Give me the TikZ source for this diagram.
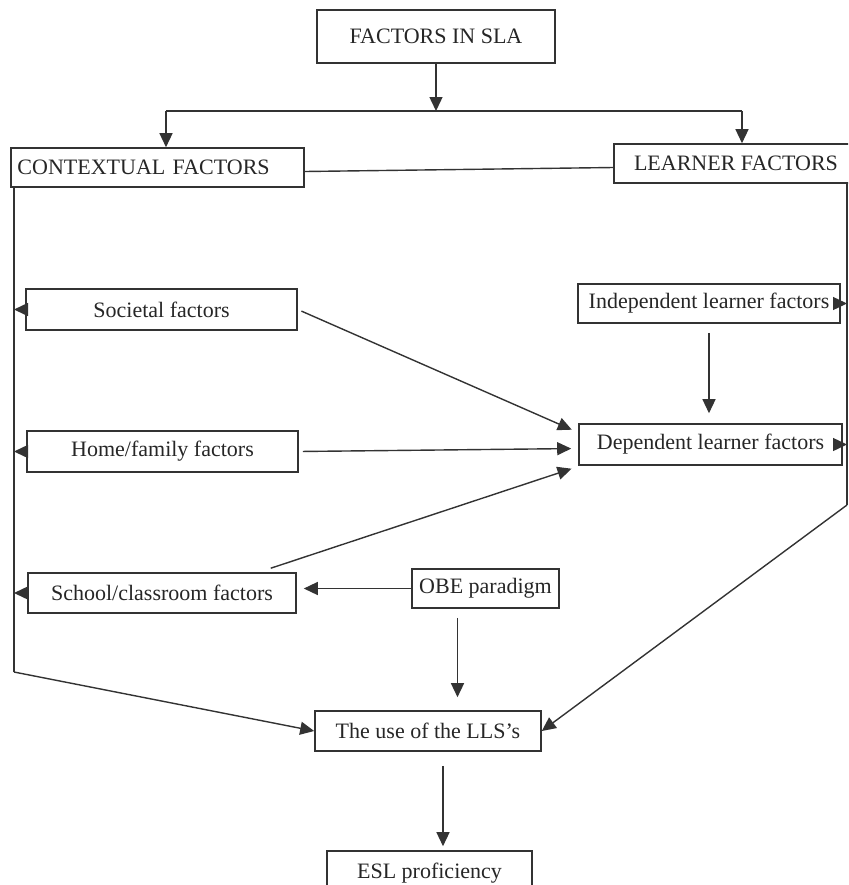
\documentclass[tikz,border=0pt]{standalone}
\usepackage{fontspec}
\setmainfont{Liberation Serif}
\usetikzlibrary{arrows.meta}

\begin{document}
\begin{tikzpicture}[x=0.5pt, y=-0.5pt, >={Triangle[length=7pt, width=6.5pt]}, line width=0.7pt, color=black!80]
	\clip (0, 0) rectangle (848, 885);
		\begin{scope}
		\tikzstyle{every node}=[draw, line width=0.8pt, align=center, inner sep=0pt, font=\fontsize{11}{13}\selectfont, text=black!85]
				\node[minimum width=119pt, minimum height=26.5pt] (SLA) at (436, 36.5) {FACTORS IN SLA};
				\node[minimum width=146.5pt, minimum height=19.5pt, text width=140pt, align=left] (CF) at (157.5, 167.5) {CONTEXTUAL FACTORS};
				\node[minimum width=122pt, minimum height=19.5pt] (LF) at (736, 163.5) {LEARNER FACTORS};
				\node[minimum width=135.5pt, minimum height=20.5pt] (SF) at (161.5, 309.5) {Societal factors};
				\node[minimum width=135.5pt, minimum height=20.5pt] (HF) at (162.5, 451.5) {Home/family factors};
				\node[minimum width=134pt, minimum height=20pt] (SCF) at (162, 593) {School/classroom factors};
				\node[minimum width=131pt, minimum height=19.5pt] (ILF) at (709, 303.5) {Independent learner factors};
				\node[minimum width=131.5pt, minimum height=20.5pt] (DLF) at (710.5, 444.5) {Dependent learner factors};
				\node[minimum width=73.5pt, minimum height=19.5pt] (OBE) at (485.5, 588.5) {OBE paradigm};
				\node[minimum width=113pt, minimum height=20pt] (LLS) at (428, 731) {The use of the LLS’s};
				\node[minimum width=102.5pt, minimum height=22pt] (ESL) at (429.5, 873) {ESL proficiency};

				% branch points
				\coordinate (HUB) at (436, 111);
				\coordinate (HL) at (166, 111);
				\coordinate (HR) at (742, 111);
				\coordinate (LB) at (14, 672);
				\coordinate (RB) at (847, 505);

				\draw[->]  (SLA) -- (HUB);
				\draw  (HL) -- (HR);
				\draw[->]  (HL) -- (HL |- CF.north);
				\draw[->]  (HR) -- (HR |- LF.north);
				\draw  ([yshift=-2pt]CF.east) -- ([yshift=-2pt]LF.west);

				% left side
				\draw  (CF.south -| LB) -- (LB);
				\draw[->]  (SF) -- (SF -| LB);
				\draw[->]  (HF) -- (HF -| LB);
				\draw[->]  (SCF) -- (SCF -| LB);
				\draw[->]  (LB) -- (LLS.west);

				% right side
				\draw  (LF.south -| RB) -- (RB);
				\draw[->]  (ILF) -- (ILF -| RB);
				\draw[->]  (DLF) -- (DLF -| RB);
				\draw[->]  (RB) -- (LLS.east);

				\draw[->, shorten <=2pt, shorten >=3.5pt]  (SF.east) -- ([yshift=6pt]DLF.west);
				\draw[->, shorten <=2pt, shorten >=3.5pt]  (HF.east) -- ([yshift=-2pt]DLF.west);
				\draw[->, shorten >=3.5pt]  ([xshift=-13pt, yshift=2pt]SCF.north east) -- ([yshift=-11pt]DLF.west);
				\draw[->, shorten <=4.5pt, shorten >=5pt]  (ILF.south) -- (ILF.south |- DLF.north);
				\draw[->, shorten >=3.5pt]  (OBE.west) -- (OBE.west -| SCF.east);
				\draw[->, shorten <=4.5pt, shorten >=6.5pt]  ([xshift=-14pt]OBE.south) -- ([xshift=-14pt]OBE.south |- LLS.north);
				\draw[->, shorten <=7pt, shorten >=2pt]  ([xshift=7.5pt]LLS.south) -- ([xshift=7.5pt]LLS.south |- ESL.north);
		\end{scope}
	\end{tikzpicture}
\end{document}
